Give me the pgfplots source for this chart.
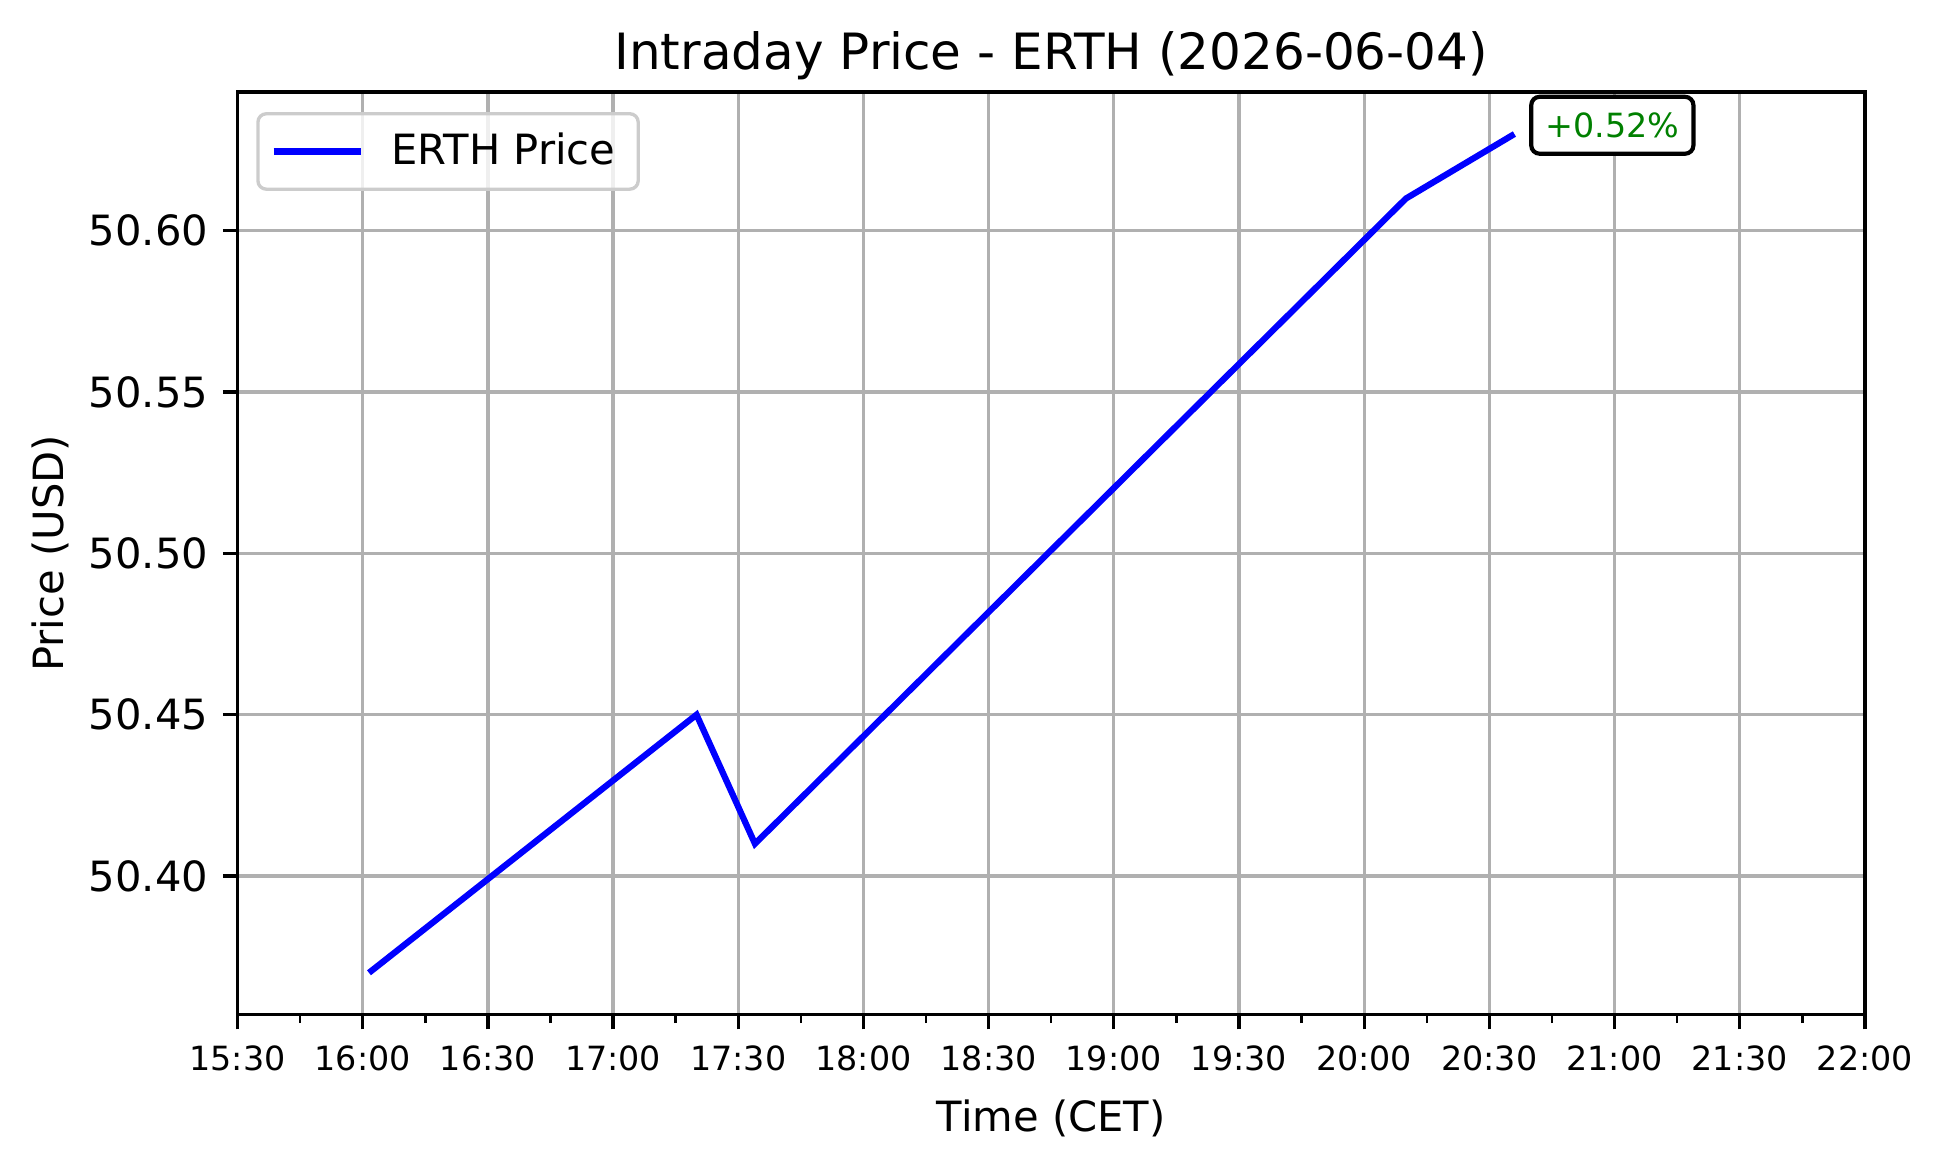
\documentclass[border=0pt]{standalone}
\usepackage{fontspec}
\setmainfont{DejaVu Sans}
\usepackage{pgfplots}
\pgfplotsset{compat=1.18}
\definecolor{gridgray}{HTML}{B0B0B0}
\definecolor{mplgreen}{HTML}{008000}
\definecolor{legendedge}{HTML}{CCCCCC}
\begin{document}
\begin{tikzpicture}
\path[use as bounding box] (-57pt,-36.6pt) rectangle (409pt,243.5pt);
\begin{axis}[
  scale only axis, width=390.5pt, height=221.4pt,
  xmin=930, xmax=1320, ymin=50.357, ymax=50.643,
  xtick={930,960,990,1020,1050,1080,1110,1140,1170,1200,1230,1260,1290,1320},
  xticklabels={15:30,16:00,16:30,17:00,17:30,18:00,18:30,19:00,19:30,20:00,20:30,21:00,21:30,22:00},
  minor xtick={945,975,1005,1035,1065,1095,1125,1155,1185,1215,1245,1275,1305},
  ytick={50.40,50.45,50.50,50.55,50.60},
  yticklabels={50.40,50.45,50.50,50.55,50.60},
  /pgf/number format/assume math mode=true,
  xtick pos=left, ytick pos=left,
  grid=major,
  major grid style={gridgray, line width=0.8pt},
  tick align=outside,
  major tick length=3.5pt, minor tick length=2pt,
  every tick/.style={black, line width=0.8pt},
  minor tick style={black, line width=0.6pt},
  axis line style={black, line width=0.8pt},
  x tick label style={font=\fontsize{8}{9.6}\selectfont, yshift=-0.5pt},
  y tick label style={font=\fontsize{10}{12}\selectfont},
  xlabel={Time (CET)},
  ylabel={Price (USD)},
  label style={font=\fontsize{10}{12}\selectfont},
  ylabel style={yshift=-2pt},
  title={Intraday Price - ERTH (2026-06-04)},
  title style={font=\fontsize{12}{14.4}\selectfont, yshift=-6.5pt},
  legend style={at={(0,1)}, anchor=north west, xshift=4.5pt, yshift=-4.8pt,
    draw=legendedge, line width=0.8pt, rounded corners=2pt, fill=white, fill opacity=0.8, text opacity=1,
    font=\fontsize{10}{12}\selectfont, inner xsep=3pt, inner ysep=2pt,
    nodes={inner sep=2.5pt},
    /tikz/every odd column/.append style={column sep=4pt}},
  legend cell align=left,
  legend image code/.code={\draw[#1, line width=1.5pt] (0pt,0pt) -- (21pt,0pt);},
]
\addplot[blue, line width=1.5pt] coordinates {
  (961.5,50.37) (1040,50.45) (1054,50.41) (1210,50.61) (1236,50.63)
};
\addlegendentry{ERTH Price}
\node[anchor=center, draw=black, line width=1pt, rounded corners=2pt, fill=white,
  text=mplgreen, font=\fontsize{8}{9.6}\selectfont, inner xsep=3.4pt, inner ysep=3.8pt]
  at (axis cs:1236,50.63) [xshift=23.5pt, yshift=2.1pt] {+0.52\%};
\end{axis}
\end{tikzpicture}
\end{document}
